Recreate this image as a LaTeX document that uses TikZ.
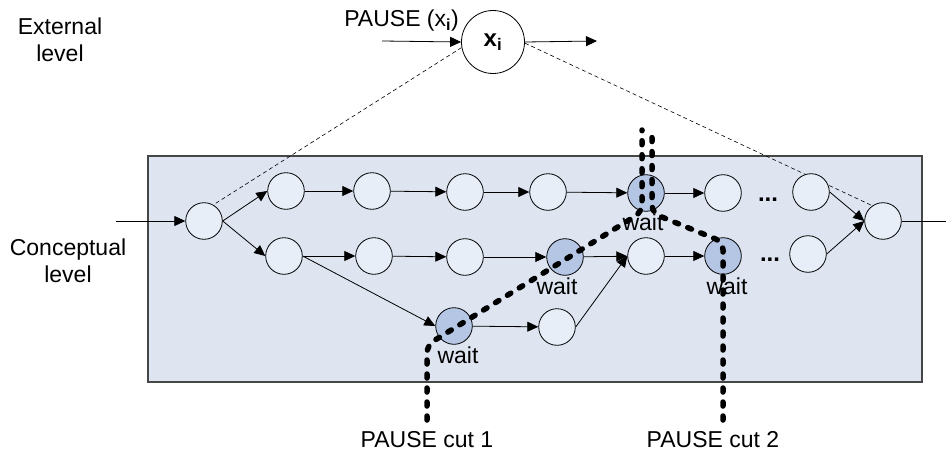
\documentclass[tikz,border=0pt]{standalone}
\usepackage{fontspec}
\setmainfont{Liberation Sans}
\usetikzlibrary{arrows.meta}
\pgfdeclarelayer{background}
\pgfsetlayers{background,main}
\definecolor{boxfill}{RGB}{222,229,241}
\definecolor{nodefill}{RGB}{232,238,248}
\definecolor{waitfill}{RGB}{180,198,228}
\definecolor{boxline}{RGB}{70,70,70}
\tikzset{
  nd/.style={circle,draw=black,fill=nodefill,minimum size=36.6pt,inner sep=0pt,line width=0.8pt},
  wt/.style={nd,fill=waitfill},
  arr/.style={-{Triangle[length=11pt,width=10pt]},line width=0.8pt},
  plain/.style={line width=0.8pt},
  thindash/.style={line width=0.6pt,dash pattern=on 4pt off 3pt},
  cut/.style={line width=5.5pt,dash pattern=on 4pt off 10pt,line cap=round,rounded corners=8pt},
  txt/.style={font=\fontsize{23}{27}\selectfont,inner sep=0pt},
}
\begin{document}
\begin{tikzpicture}[x=1pt,y=-1pt]
\useasboundingbox (0,0) rectangle (946,455);
% labels
\node[txt,align=center] (extlbl) at (60,40) {External\\level};
\node[txt,align=center] (conlbl) at (68,261) {Conceptual\\level};
% external node
\node[circle,draw=black,fill=white,minimum size=63pt,inner sep=0pt,line width=0.8pt,font=\fontsize{24}{28}\selectfont\bfseries] (ext) at (493,42) {x\textsubscript{i}};
\node[txt,anchor=base east] (pauselbl) at (459,27) {PAUSE (x\textsubscript{\textbf{i}})};
\coordinate (extin) at (382,41);
\coordinate (extout) at (597,41);
\draw[arr] (extin) -- (ext.west);
\draw[arr] (ext.east) -- (extout);
% conceptual box
\begin{pgfonlayer}{background}
\node[draw=boxline,fill=boxfill,line width=1.2pt,minimum width=774pt,minimum height=226pt,inner sep=0pt] (box) at (535,269) {};
\end{pgfonlayer}
% nodes
\node[nd] (in) at (204,221) {};
\node[nd] (t1) at (286,191) {};
\node[nd] (t2) at (372,191) {};
\node[nd] (t3) at (465,192) {};
\node[nd] (t4) at (548,192) {};
\node[wt] (w1) at (646,193) {};
\node[nd] (t6) at (723,193) {};
\node[nd] (t8) at (811,192) {};
\node[nd] (m1) at (284,256) {};
\node[nd] (m2) at (374,256) {};
\node[nd] (m3) at (465,257) {};
\node[wt] (w2) at (565,257) {};
\node[nd] (m5) at (646,256) {};
\node[wt] (w3) at (723,256) {};
\node[nd] (m8) at (808,254) {};
\node[wt] (w4) at (454,326) {};
\node[nd] (b2) at (557,327) {};
\node[nd] (fin) at (883,221) {};
\node[txt,anchor=base,font=\fontsize{24}{28}\selectfont\bfseries] (dots1) at (768,201) {...};
\node[txt,anchor=base,font=\fontsize{24}{28}\selectfont\bfseries] (dots2) at (770,261) {...};
% wait labels
\node[txt,anchor=base] (wl1) at (643,230) {wait};
\node[txt,anchor=base] (wl2) at (557,294) {wait};
\node[txt,anchor=base] (wl3) at (727,294) {wait};
\node[txt,anchor=base] (wl4) at (458,363) {wait};
% thin dashed projection lines
\begin{pgfonlayer}{background}
\draw[thindash] (ext.190) -- (in.60);
\draw[thindash] (ext.-2) -- (fin.125);
\end{pgfonlayer}
% connectors
\coordinate (inp) at (116,221);
\coordinate (outp) at (946,221);
\draw[arr] (inp) -- (in.west);
\draw[arr] (in.east) -- (t1.west);
\draw[arr] (in.east) -- (m1.west);
\draw[arr] (t1) -- (t2);
\draw[arr] (t2) -- (t3);
\draw[arr] (t3) -- (t4);
\draw[arr] (t4) -- (w1);
\draw[arr] (w1) -- (t6);
\draw[arr] (m1) -- (m2);
\draw[arr] (m2) -- (m3);
\draw[arr] (m3) -- (w2);
\draw[arr] (w2) -- (m5);
\draw[arr] (m5) -- (w3);
\draw[arr] (m1.east) -- (w4.west);
\draw[arr] (w4) -- (b2);
\draw[arr] (b2.east) -- (m5.west);
\draw[arr] (t8.east) -- (fin.west);
\draw[arr] (m8.east) -- (fin.west);
\draw[plain] (fin.east) -- (outp);
% pause cuts
\coordinate (c1a) at (427,420);
\coordinate (c1b) at (427,345);
\coordinate (c1c) at (642,212);
\coordinate (c1d) at (642,130);
\coordinate (c2a) at (723,420);
\coordinate (c2b) at (723,242);
\coordinate (c2c) at (652,213);
\coordinate (c2d) at (652,130);
\draw[cut] (c1a) -- (c1b) -- (c1c) -- (c1d);
\draw[cut] (c2a) -- (c2b) -- (c2c) -- (c2d);
\node[txt,anchor=base] (cut1) at (427,447) {PAUSE cut 1};
\node[txt,anchor=base] (cut2) at (713,447) {PAUSE cut 2};
\end{tikzpicture}
\end{document}
